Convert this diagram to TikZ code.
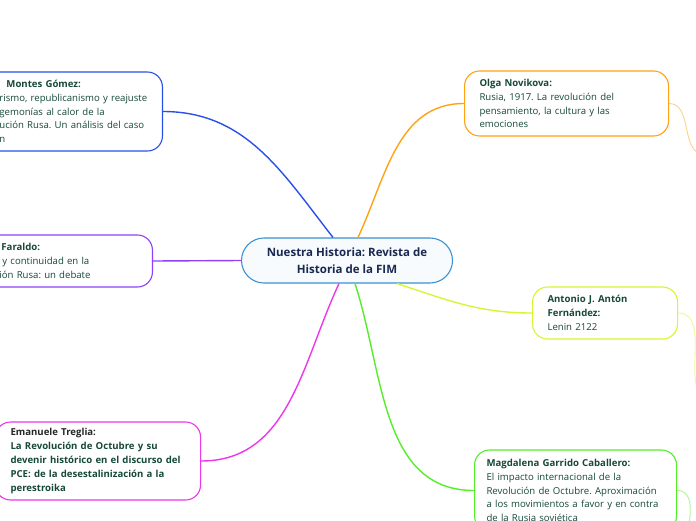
\documentclass[tikz,border=0pt]{standalone}
\usepackage{fontspec}
\setmainfont{Open Sans}
\frenchspacing
\usetikzlibrary{positioning}
\definecolor{royal}{RGB}{40,80,235}
\definecolor{tangerine}{RGB}{255,163,20}
\definecolor{violet}{RGB}{140,65,250}
\definecolor{fuchsia}{RGB}{235,55,235}
\definecolor{lime}{RGB}{215,245,50}
\definecolor{grass}{RGB}{85,238,40}
\definecolor{sky}{RGB}{60,145,210}
\definecolor{pine}{RGB}{22,72,58}
\definecolor{midnight}{RGB}{25,40,80}
\tikzset{
  card/.style={draw=#1,line width=1.1pt,fill=white,rounded corners=15pt,align=left,
    font=\fontsize{9.6}{13.8}\selectfont,text=pine,inner xsep=15pt,inner ysep=0pt},
  card/.default=royal,
  link/.style={draw=#1,line width=1.4pt},
  twig/.style={draw=#1!50,line width=.9pt},
  topic/.style={draw=sky,line width=1.1pt,fill=sky!4,rounded corners=22.5pt,
    minimum width=211pt,minimum height=45pt,align=center,text=midnight,
    font=\bfseries\fontsize{11.5}{17}\selectfont},
}
\begin{document}
\begin{tikzpicture}[x=1pt,y=1pt]
  \path[use as bounding box] (0,0) rectangle (696,-520);
  \clip (0,0) rectangle (696,-520);
  % central topic
  \node[topic] (hist) at (347,-260.5) {Nuestra Historia: Revista de\\Historia de la FIM};
  % left side
  \node[card=royal,text width=148pt,minimum height=79pt,anchor=east] (montes) at (163,-111.5)
    {{\bfseries\hspace*{7pt}Montes Gómez:}\\rismo, republicanismo y reajuste\\gemonías al calor de la\\ución Rusa. Un análisis del caso\\n};
  \node[card=violet,text width=138pt,minimum height=52pt,anchor=east] (faraldo) at (153,-261)
    {{\bfseries\hspace*{2pt}Faraldo:}\\\hspace*{3pt}y continuidad en la\\ión Rusa: un debate};
  \node[card=fuchsia,text width=175pt,minimum height=78pt,anchor=west] (treglia) at (-5,-461)
    {{\bfseries\color{black!85}Emanuele Treglia:}\\\bfseries La Revolución de Octubre y su\\devenir histórico en el discurso del\\PCE: de la desestalinización a la\\perestroika};
  % right side
  \node[card=tangerine,text width=174pt,minimum height=65pt,anchor=west] (olga) at (464,-103.5)
    {{\bfseries Olga Novikova:}\\Rusia, 1917. La revolución del\\pensamiento, la cultura y las\\emociones};
  \node[card=lime,text width=115pt,minimum height=52pt,anchor=west] (anton) at (532,-313)
    {{\bfseries Antonio J. Antón\\Fernández:}\\Lenin 2122};
  \node[card=grass,text width=178pt,inner xsep=12pt,minimum height=81pt,anchor=west] (magda) at (474,-490.5)
    {{\bfseries Magdalena Garrido Caballero:}\\El impacto internacional de la\\Revolución de Octubre. Aproximación\\a los movimientos a favor y en contra\\de la Rusia soviética};
  % branches
  \draw[link=royal] ([xshift=-14pt]hist.north) to[out=128,in=0] (montes.east);
  \draw[link=tangerine] ([xshift=11pt]hist.north) to[out=65,in=180] (olga.west);
  \draw[link=violet] (hist.west) -- (faraldo.east);
  \draw[link=fuchsia] ([xshift=-8pt]hist.south) to[out=-115,in=0] (treglia.east);
  \draw[link=grass] ([xshift=8pt]hist.south) to[out=-72,in=180] (magda.west);
  \draw[link=lime] ([xshift=50pt]hist.south) to[out=-18,in=180] (anton.west);
  % sub-branches leaving the page
  \coordinate (olga-out) at (704,-154);
  \coordinate (anton-out) at (712,-400);
  \coordinate (magda-out) at (700,-570);
  \draw[twig=tangerine] (olga.east) to[out=0,in=180] (olga-out);
  \draw[twig=lime] (anton.east) to[out=0,in=180] (anton-out);
  \draw[twig=grass] (magda.east) to[out=0,in=180] (magda-out);
\end{tikzpicture}
\end{document}
